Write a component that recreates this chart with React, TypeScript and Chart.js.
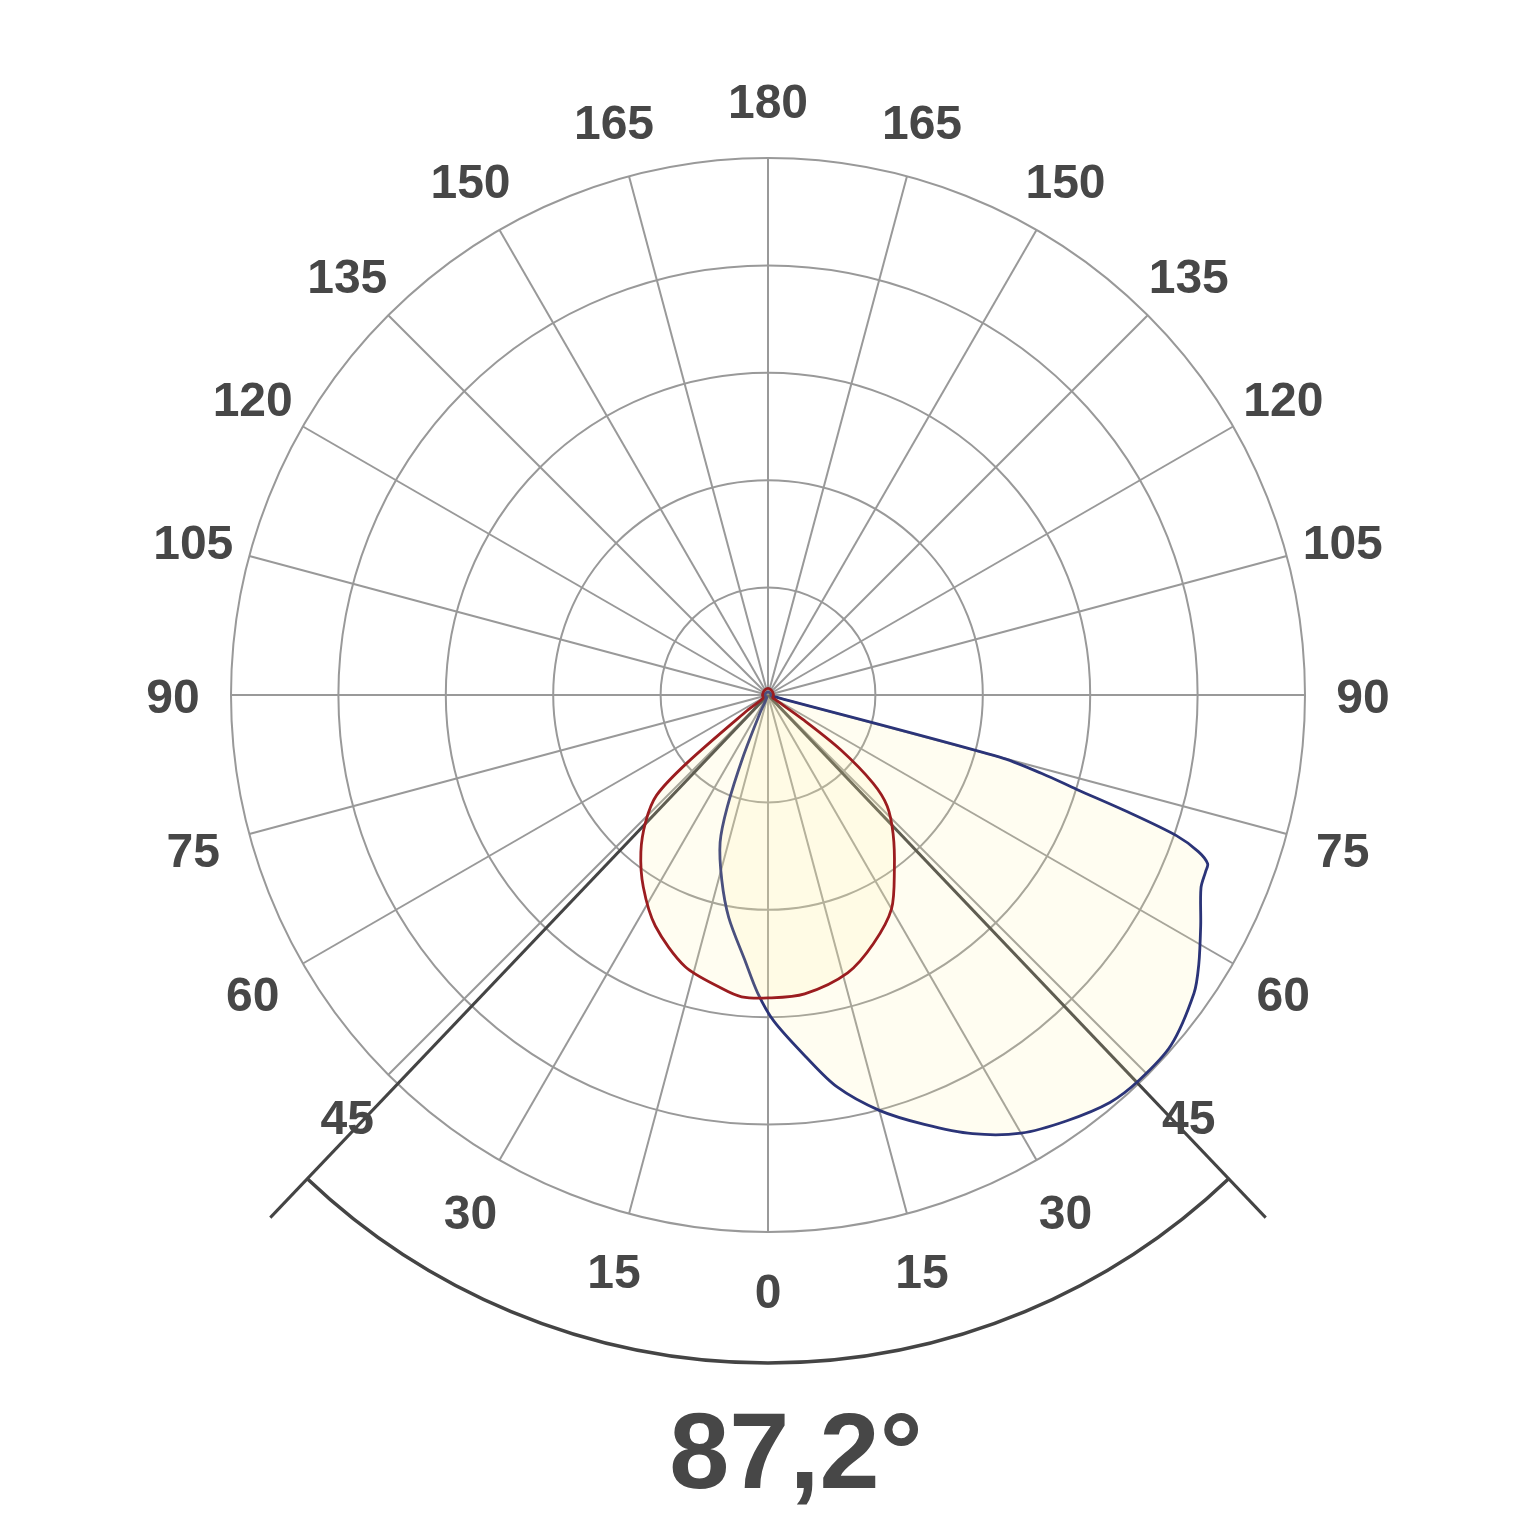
import React, { useEffect, useRef } from 'react';
import { Chart, registerables } from 'chart.js';

Chart.register(...registerables);

// Spoke labels, clockwise from the top (every 15°)
const spokeLabels = [
  '180', '165', '150', '135', '120', '105', '90', '75', '60', '45', '30', '15',
  '0', '15', '30', '45', '60', '75', '90', '105', '120', '135', '150', '165',
];

// Photometric angle (deg; 0 = straight down, + = right half, - = left half)
const redAngles = [180, 150, 120, 90, 60, 58, 55, 53, 50, 47, 42, 36, 30, 23, 16, 7, 0, -5, -9, -17, -26, -33, -39, -44, -48, -50, -53, -57, -90, -120, -150];
const redValues = [6.1, 5.6, 5.1, 5.1, 5.1, 7.4, 40.0, 84.7, 127.6, 151.8, 174.1, 200.2, 230.0, 251.4, 269.1, 280.3, 282.1, 282.1, 276.5, 264.4, 239.3, 213.2, 188.1, 163.9, 139.7, 98.7, 26.0, 5.6, 5.1, 5.1, 5.6];

const blueAngles = [180, 120, 90, 77, 76, 75, 74, 73, 72, 71, 70, 69, 68, 66, 62, 58, 55, 49, 44, 40, 35, 30, 25, 20, 15, 10, 6, 1, -2, -5, -10, -14, -18, -20, -22, -24, -26, -60, -90, -120];
const blueValues = [2.8, 2.8, 2.8, 2.8, 3.0, 223.4, 265.3, 300.7, 351.9, 402.2, 426.4, 438.5, 439.4, 441.3, 456.3, 473.0, 484.2, 497.2, 498.1, 495.3, 484.2, 471.1, 450.7, 425.5, 400.4, 370.6, 338.9, 303.5, 277.5, 247.7, 210.4, 177.8, 144.3, 110.8, 61.5, 18.6, 2.8, 2.8, 2.8, 2.8];

const scaleMax = 500;
const ringStep = 100;
const beamAngle = 87.2;

const STEPS = 360;
const toIndex = (phi: number) => (((180 - phi) % 360) + 360) % 360;

function buildSeries(angles: number[], values: number[]) {
  const arr: (number | null)[] = new Array(STEPS).fill(null);
  angles.forEach((a, k) => {
    arr[Math.round(toIndex(a)) % STEPS] = values[k];
  });
  return arr;
}

const allLabels = Array.from({ length: STEPS }, (_, i) => (i % 15 === 0 ? spokeLabels[i / 15] : ''));

const FONT = '"Liberation Sans", Arial, Helvetica, sans-serif';
const TEXT_COLOR = '#474747';

const overlayPlugin = {
  id: 'beamOverlay',
  beforeDatasetsDraw(chart: any) {
    const s = chart.scales.r;
    const ctx = chart.ctx as CanvasRenderingContext2D;
    const half = beamAngle / 2;
    const lineDist = s.getDistanceFromCenterForValue(672);
    const arcDist = s.getDistanceFromCenterForValue(622);
    ctx.save();
    ctx.strokeStyle = '#444444';
    ctx.lineWidth = 3;
    for (const phi of [half, -half]) {
      const p = s.getPointPosition(toIndex(phi), lineDist);
      ctx.beginPath();
      ctx.moveTo(s.xCenter, s.yCenter);
      ctx.lineTo(p.x, p.y);
      ctx.stroke();
    }
    const a1 = s.getIndexAngle(toIndex(half)) - Math.PI / 2;
    const a2 = s.getIndexAngle(toIndex(-half)) - Math.PI / 2;
    ctx.lineWidth = 3.5;
    ctx.beginPath();
    ctx.arc(s.xCenter, s.yCenter, arcDist, a1, a2, false);
    ctx.stroke();
    ctx.restore();
  },
  afterDraw(chart: any) {
    const s = chart.scales.r;
    const ctx = chart.ctx as CanvasRenderingContext2D;
    ctx.save();
    ctx.fillStyle = TEXT_COLOR;
    ctx.font = `bold 48px ${FONT}`;
    ctx.textAlign = 'center';
    ctx.textBaseline = 'middle';
    spokeLabels.forEach((lab, k) => {
      const p = s.getPointPosition(k * 15, s.drawingArea + 58);
      ctx.fillText(lab, p.x, p.y + 5);
    });
    ctx.font = `bold 108px ${FONT}`;
    ctx.textBaseline = 'alphabetic';
    const txt = beamAngle.toFixed(1).replace('.', ',') + '°';
    ctx.fillText(txt, s.xCenter + 28, s.yCenter + 793);
    ctx.restore();
  },
};

export default function App() {
  const ref = useRef<HTMLCanvasElement>(null);
  useEffect(() => {
    if (!ref.current) return;
    const chart = new Chart(ref.current, {
      type: 'radar',
      data: {
        labels: allLabels,
        datasets: [
          {
            label: 'C0-C180',
            data: buildSeries(redAngles, redValues),
            borderColor: '#9b1c1f',
            borderWidth: 2.8,
            backgroundColor: 'rgba(255, 240, 160, 0.15)',
            fill: 'origin',
            spanGaps: true,
            tension: 0.3,
            pointRadius: 0,
            pointHoverRadius: 0,
          },
          {
            label: 'C90-C270',
            data: buildSeries(blueAngles, blueValues),
            borderColor: '#2b3478',
            borderWidth: 2.8,
            backgroundColor: 'rgba(255, 240, 160, 0.15)',
            fill: 'origin',
            spanGaps: true,
            tension: 0.3,
            pointRadius: 0,
            pointHoverRadius: 0,
          },
        ],
      },
      options: {
        responsive: false,
        animation: false,
        events: [],
        layout: { padding: { left: 231, top: 158, right: 232, bottom: 305 } },
        plugins: {
          legend: { display: false },
          tooltip: { enabled: false },
        },
        scales: {
          r: {
            min: 0,
            max: scaleMax,
            ticks: { display: false, stepSize: ringStep },
            grid: { circular: true, color: '#999999', lineWidth: 2 },
            angleLines: {
              display: true,
              color: '#999999',
              lineWidth: (ctx: any) => (ctx.index % 15 === 0 ? 2 : 0),
            },
            pointLabels: { display: false },
          },
        },
      } as any,
      plugins: [overlayPlugin],
    });
    return () => chart.destroy();
  }, []);
  return (
    <div style={{ position: 'fixed', left: 0, top: 0, width: 1537, height: 1537, background: '#ffffff' }}>
      <canvas ref={ref} width={1537} height={1537} style={{ display: 'block', width: 1537, height: 1537 }} />
    </div>
  );
}
